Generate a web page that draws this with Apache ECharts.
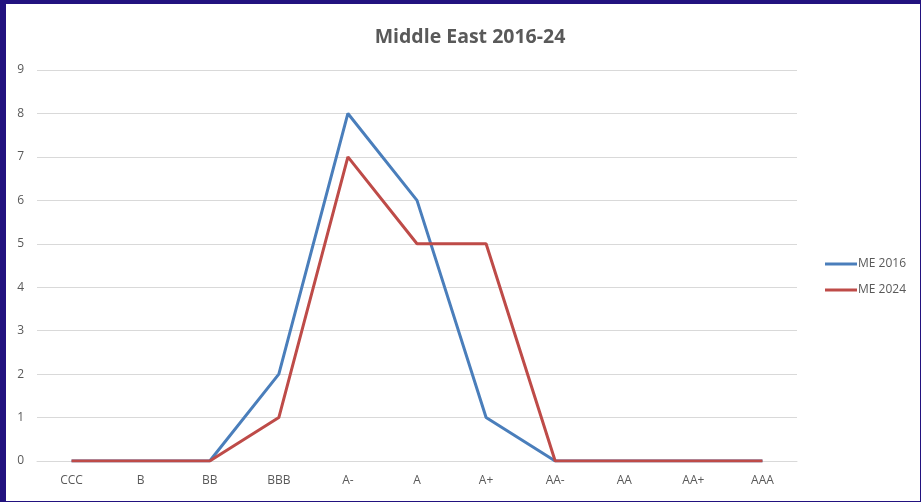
<!DOCTYPE html>
<html>
<head>
<meta charset="utf-8">
<style>
  html, body { margin: 0; padding: 0; background: #22127f; }
  #frame { position: absolute; left: 6px; top: 4px; width: 914px; height: 497px; background: #ffffff; }
  #chart { position: absolute; left: -6px; top: -4px; width: 921px; height: 502px; }
</style>
<script src="https://cdn.jsdelivr.net/npm/echarts@6/dist/echarts.min.js"></script>
</head>
<body>
<div id="frame"><div id="chart"></div></div>
<script>
// Rating buckets along the x axis
const ratings = ['CCC', 'B', 'BB', 'BBB', 'A-', 'A', 'A+', 'AA-', 'AA', 'AA+', 'AAA'];
// Number of issuers per rating
const me2016 = [0, 0, 0, 2, 8, 6, 1, 0, 0, 0, 0];
const me2024 = [0, 0, 0, 1, 7, 5, 5, 0, 0, 0, 0];
const yTicks = [0, 1, 2, 3, 4, 5, 6, 7, 8, 9];

const labelColor = '#595959';
const font = '"Open Sans", "DejaVu Sans", sans-serif';

const chart = echarts.init(document.getElementById('chart'), null, { renderer: 'canvas' });
chart.setOption({
  backgroundColor: 'transparent',
  animation: false,
  title: {
    text: 'Middle East 2016-24',
    left: 465, top: 22, textAlign: 'center',
    textStyle: { fontFamily: font, fontSize: 19.5, fontWeight: 'bold', color: labelColor }
  },
  legend: {
    orient: 'vertical',
    left: 820, top: 253,
    itemWidth: 32, itemHeight: 3, itemGap: 14,
    icon: 'rect',
    textStyle: { fontFamily: font, fontSize: 12, color: labelColor, padding: [0, 0, 0, -4] },
    data: ['ME 2016', 'ME 2024']
  },
  grid: { left: 37, right: 124, top: 70, bottom: 41, containLabel: false },
  xAxis: {
    type: 'category',
    data: ratings,
    boundaryGap: true,
    axisLine: { show: true, lineStyle: { color: '#d9d9d9', width: 1 } },
    axisTick: { show: false },
    axisLabel: { fontFamily: font, fontSize: 12, color: labelColor, margin: 14 }
  },
  yAxis: {
    type: 'value',
    min: yTicks[0], max: yTicks[yTicks.length - 1], interval: 1,
    axisLine: { show: false },
    axisTick: { show: false },
    axisLabel: { fontFamily: font, fontSize: 12, color: labelColor, margin: 13 },
    splitLine: { lineStyle: { color: '#d9d9d9', width: 1 } }
  },
  series: [
    {
      name: 'ME 2016', type: 'line', data: me2016,
      symbol: 'none', z: 2,
      lineStyle: { color: '#4a7ebb', width: 3 },
      itemStyle: { color: '#4a7ebb' }
    },
    {
      name: 'ME 2024', type: 'line', data: me2024,
      symbol: 'none', z: 3,
      lineStyle: { color: '#be4b48', width: 3 },
      itemStyle: { color: '#be4b48' }
    }
  ]
});
</script>
</body>
</html>
